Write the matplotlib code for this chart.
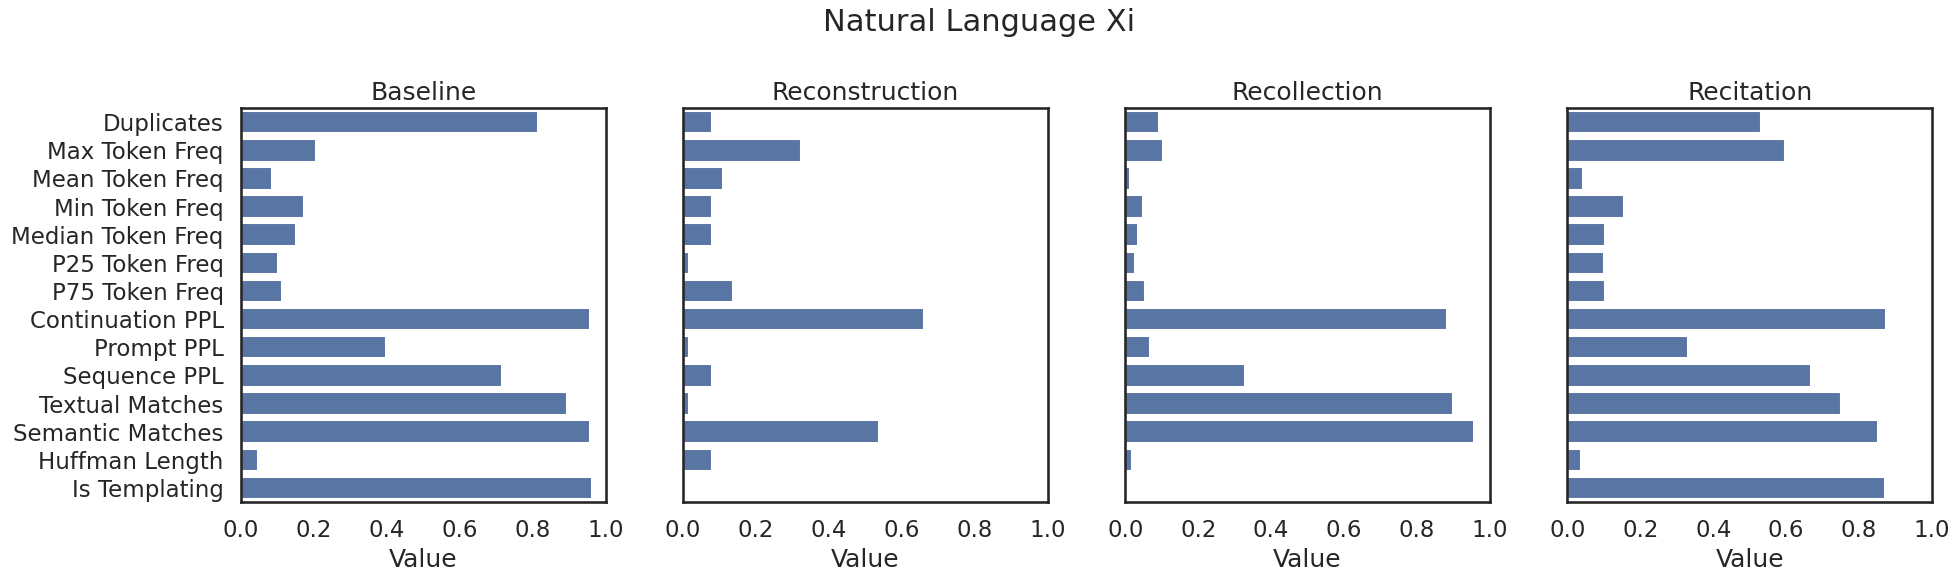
import matplotlib
matplotlib.use("Agg")
import matplotlib.pyplot as plt
import pandas as pd
import seaborn as sns

features = ["Duplicates", "Max Token Freq", "Mean Token Freq", "Min Token Freq",
            "Median Token Freq", "P25 Token Freq", "P75 Token Freq",
            "Continuation PPL", "Prompt PPL", "Sequence PPL", "Textual Matches",
            "Semantic Matches", "Huffman Length", "Is Templating"]

baseline = [0.816, 0.206, 0.086, 0.174, 0.152, 0.102, 0.113,
            0.957, 0.398, 0.717, 0.895, 0.957, 0.047, 0.962]
reconstruction = [0.078, 0.322, 0.108, 0.078, 0.078, 0.017, 0.138,
                  0.660, 0.017, 0.078, 0.017, 0.537, 0.078, 0.0]
recollection = [0.092, 0.103, 0.012, 0.048, 0.034, 0.026, 0.053,
                0.883, 0.067, 0.328, 0.899, 0.957, 0.017, 0.0]
recitation = [0.532, 0.598, 0.043, 0.155, 0.103, 0.100, 0.103,
              0.874, 0.330, 0.669, 0.751, 0.852, 0.037, 0.871]

panels = ["Baseline", "Reconstruction", "Recollection", "Recitation"]
values = [baseline, reconstruction, recollection, recitation]

sns.set_theme(style="white", context="talk")

fig, axes = plt.subplots(1, 4, figsize=(19.58, 5.81), dpi=100, sharey=True)
fig.subplots_adjust(left=0.1231, right=0.9867, top=0.814, bottom=0.136, wspace=0.213)

for ax, name, vals in zip(axes, panels, values):
    df = pd.DataFrame({"Feature": features, "Value": vals})
    sns.barplot(data=df, x="Value", y="Feature", ax=ax, color="C0")
    ax.set_title(name)
    ax.set_xlim(0, 1)
    ax.set_ylabel("")
    ax.set_xticks([0.0, 0.2, 0.4, 0.6, 0.8, 1.0])

fig.suptitle("Natural Language Xi", fontsize=22, y=0.961, va="center")
fig.savefig("out.png", dpi=100)
